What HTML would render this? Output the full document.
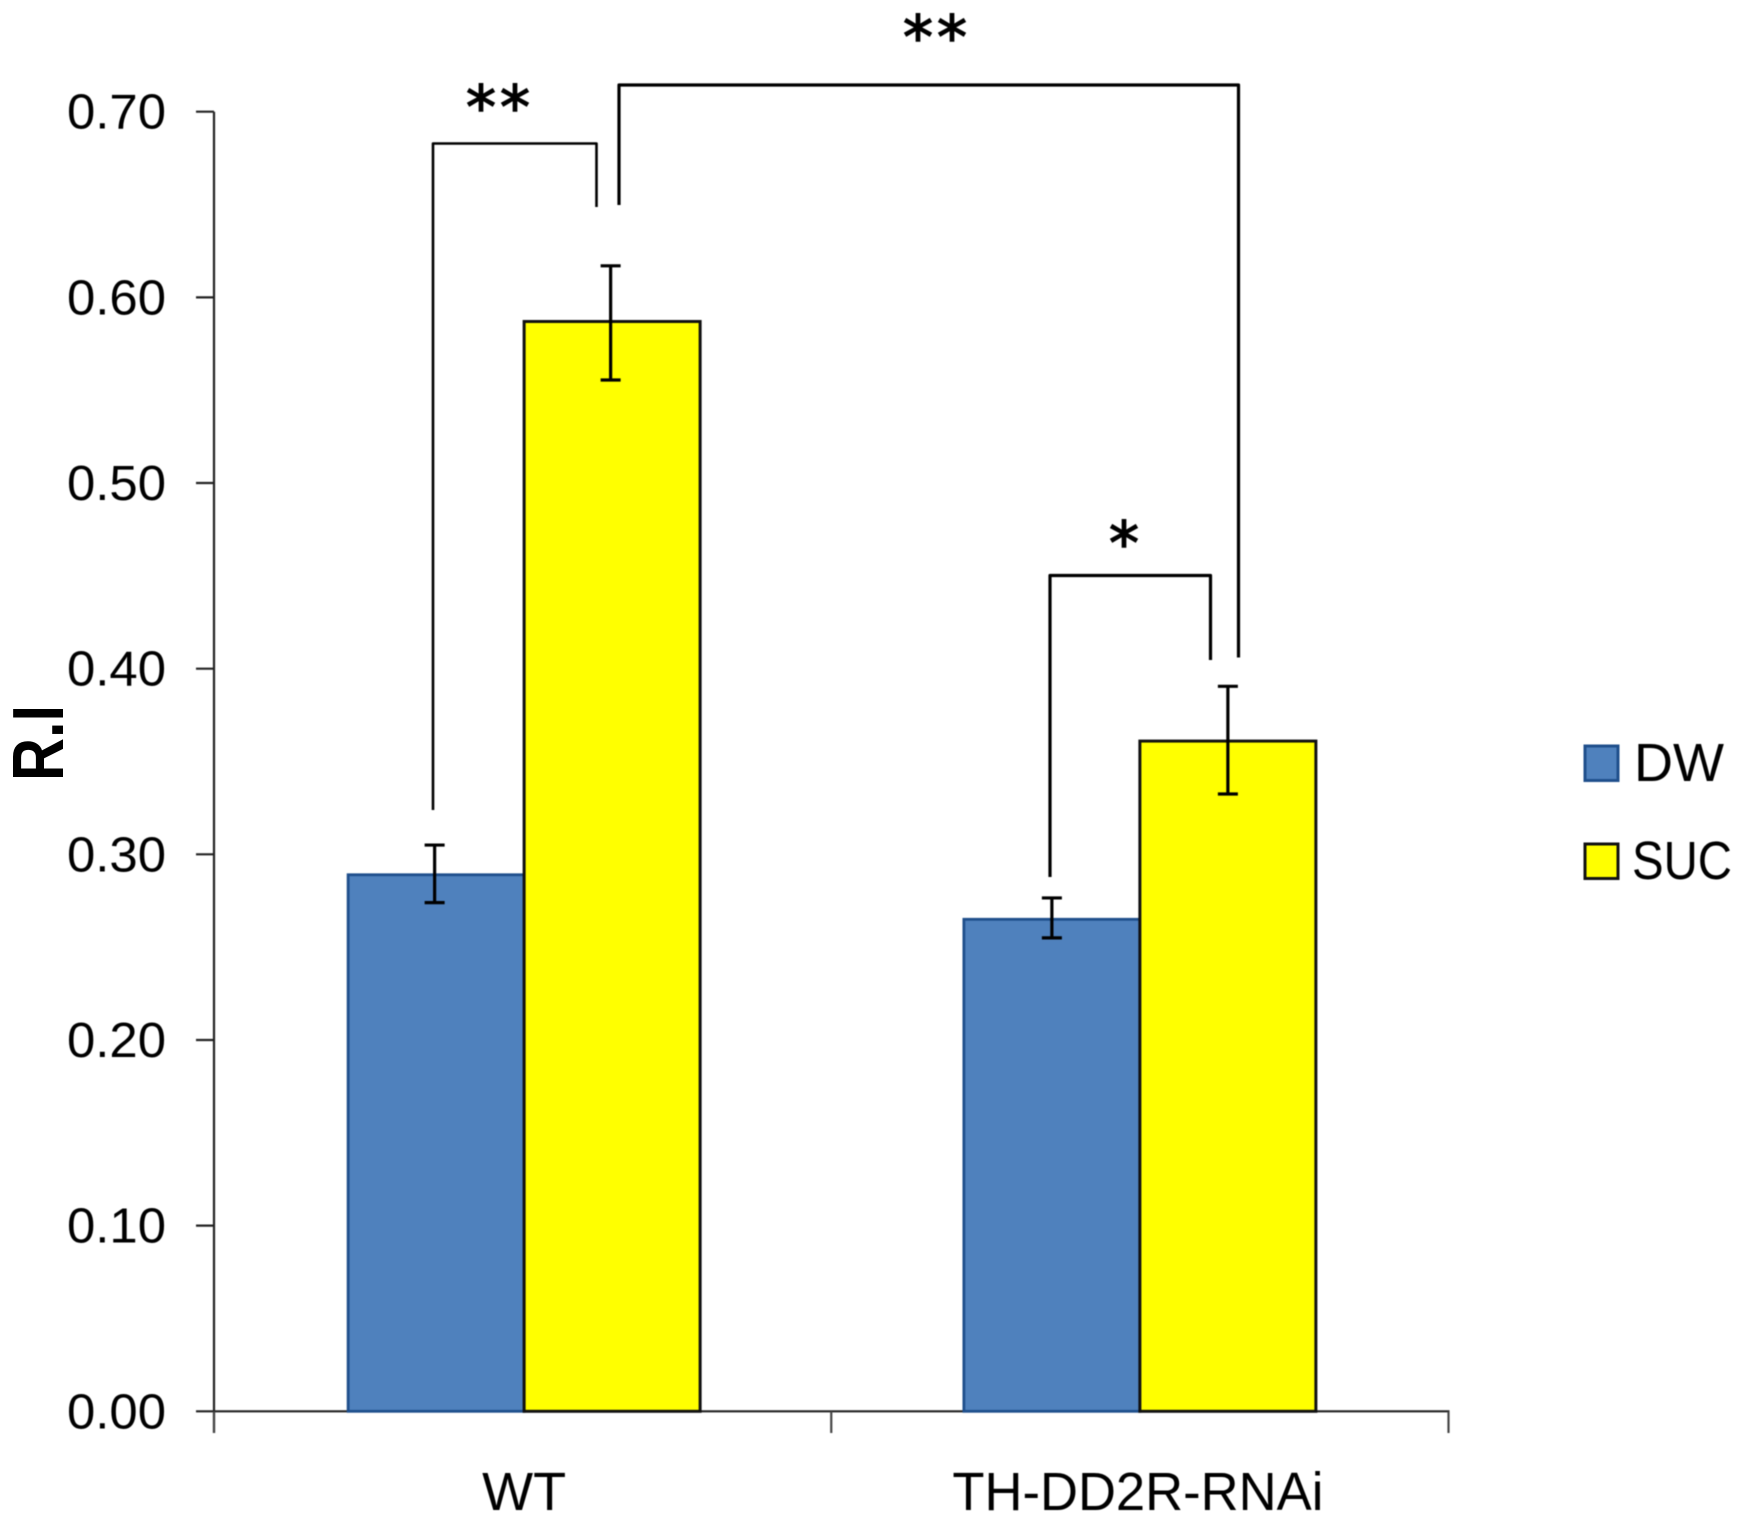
<!DOCTYPE html>
<html lang="en">
<head>
<meta charset="utf-8">
<title>R.I bar chart</title>
<style>
html,body{margin:0;padding:0;background:#fff;}
svg{display:block;}
text{font-family:"Liberation Sans",sans-serif;fill:#000;}
</style>
</head>
<body>
<svg id="chart" xmlns="http://www.w3.org/2000/svg" width="1739" height="1531" viewBox="0 0 1739 1531">
  <rect x="0" y="0" width="1739" height="1531" fill="#ffffff"/>
  <g id="plot" style="filter:blur(0.6px)"></g>
  <g fill="none" stroke="#000" stroke-linejoin="round" style="filter:blur(0.5px)">
    <path stroke-width="2.6" d="M433 810V143.5H596.5V207"/>
    <path stroke-width="3.2" d="M619 205V85H1238.5V657.5"/>
    <path stroke-width="3.2" d="M1050 877V575.5H1210.5V660"/>
  </g>
  <g style="filter:blur(0.4px)">
    <text x="500" y="128" text-anchor="middle" stroke="#000" stroke-width="1.4" style="font-family:'DejaVu Sans',sans-serif;font-size:60px;letter-spacing:4px;">**</text>
    <text x="937" y="58" text-anchor="middle" stroke="#000" stroke-width="1.4" style="font-family:'DejaVu Sans',sans-serif;font-size:60px;letter-spacing:4px;">**</text>
    <text x="1124" y="564" text-anchor="middle" stroke="#000" stroke-width="1.4" style="font-family:'DejaVu Sans',sans-serif;font-size:60px;">*</text>
  </g>
  <text transform="translate(63 781) rotate(-90)" x="0" y="0" textLength="76" lengthAdjust="spacingAndGlyphs" style="font-size:72px;font-weight:700;">R.I</text>
</svg>
<script>
const categories = ["WT", "TH-DD2R-RNAi"];
const seriesNames = ["DW", "SUC"];
const dwValues = [0.289, 0.265];
const sucValues = [0.587, 0.361];
const dwErrLow = [0.274, 0.255];
const dwErrHigh = [0.305, 0.2765];
const sucErrLow = [0.5555, 0.3325];
const sucErrHigh = [0.617, 0.3905];
const yTickLabels = ["0.00", "0.10", "0.20", "0.30", "0.40", "0.50", "0.60", "0.70"];

const NS = "http://www.w3.org/2000/svg";
const plot = document.getElementById("plot");
const chart = document.getElementById("chart");

const X0 = 214, X1 = 1448.5, Y0 = 1411.3, YTOP = 111.7, YMAX = 0.7;
const bandWidth = (X1 - X0) / categories.length;
const barWidth = 176;
function yScale(v) { return Y0 - (v / YMAX) * (Y0 - YTOP); }
function xCenter(i) { return X0 + bandWidth * (i + 0.5); }

function make(tag, attrs, parent) {
  const el = document.createElementNS(NS, tag);
  for (const k in attrs) el.setAttribute(k, attrs[k]);
  parent.appendChild(el);
  return el;
}

// axes
const yAxis = make("line", {x1: X0, y1: YTOP, x2: X0, y2: 1433, stroke: "#222", "stroke-width": 2.2}, plot);


const xAxis = make("line", {x1: 196, y1: Y0, x2: X1 + 1, y2: Y0, stroke: "#222", "stroke-width": 2.2}, plot);



yTickLabels.forEach(function (label) {
  const v = parseFloat(label);
  const y = yScale(v);
  if (v > 0) {
    const t = make("line", {x1: 196, y1: y, x2: X0, y2: y, stroke: "#222", "stroke-width": 2.2}, plot);
    
    
  }
  const txt = make("text", {x: 67, y: y + 17, textLength: 99, lengthAdjust: "spacingAndGlyphs", style: "font-size:49px;"}, plot);
  txt.textContent = label;
  
  
});

for (let i = 0; i <= categories.length; i++) {
  const x = X0 + bandWidth * i;
  const t = make("line", {x1: x, y1: Y0, x2: x, y2: 1433, stroke: "#444", "stroke-width": 2.2}, plot);
  
  
}

function drawBar(i, value, left, fill, stroke, sw) {
  const y = yScale(value);
  const r = make("rect", {x: left, y: y, width: barWidth, height: Y0 - y, fill: fill, stroke: stroke, "stroke-width": sw}, plot);
  return r;
}
function drawErr(cx, lo, hi) {
  const g = make("g", {stroke: "#000", "stroke-width": 3.2}, plot);
  make("line", {x1: cx, y1: yScale(hi), x2: cx, y2: yScale(lo)}, g);
  make("line", {x1: cx - 10, y1: yScale(hi), x2: cx + 10, y2: yScale(hi)}, g);
  make("line", {x1: cx - 10, y1: yScale(lo), x2: cx + 10, y2: yScale(lo)}, g);
  return g;
}

categories.forEach(function (cat, i) {
  const c = xCenter(i);
  const barCenter = c + (i === 0 ? 1.5 : 0);
  const dw = drawBar(i, dwValues[i], barCenter - barWidth, "#4f81bd", "#1f4f8c", 2.8);
  
  
  const suc = drawBar(i, sucValues[i], barCenter, "#ffff00", "#111", 3);
  
  
  const e1 = drawErr(c - barWidth / 2, dwErrLow[i], dwErrHigh[i]);
  
  
  const e2 = drawErr(c + barWidth / 2, sucErrLow[i], sucErrHigh[i]);
  
  
  const lab = make("text", {x: c + (i === 0 ? 1.5 : -2), y: 1510, "text-anchor": "middle", style: "font-size:54px;"}, plot);
  if (i === 1) { lab.setAttribute("textLength", 371); lab.setAttribute("lengthAdjust", "spacingAndGlyphs"); }
  lab.textContent = cat;
  
  
});

// legend
const legendFills = ["#4f81bd", "#ffff00"];
const legendStrokes = ["#1f4f8c", "#111"];
seriesNames.forEach(function (name, i) {
  const top = 746 + i * 98;
  const sw = make("rect", {x: 1585, y: top, width: 33, height: 34.5, fill: legendFills[i], stroke: legendStrokes[i], "stroke-width": 3}, plot);
  
  
  const tx = make("text", {x: i === 0 ? 1634 : 1632, y: top + 35, textLength: i === 0 ? 90 : 100, lengthAdjust: "spacingAndGlyphs", style: "font-size:54px;"}, plot);
  tx.textContent = name;
  
  
});
</script>
</body>
</html>
